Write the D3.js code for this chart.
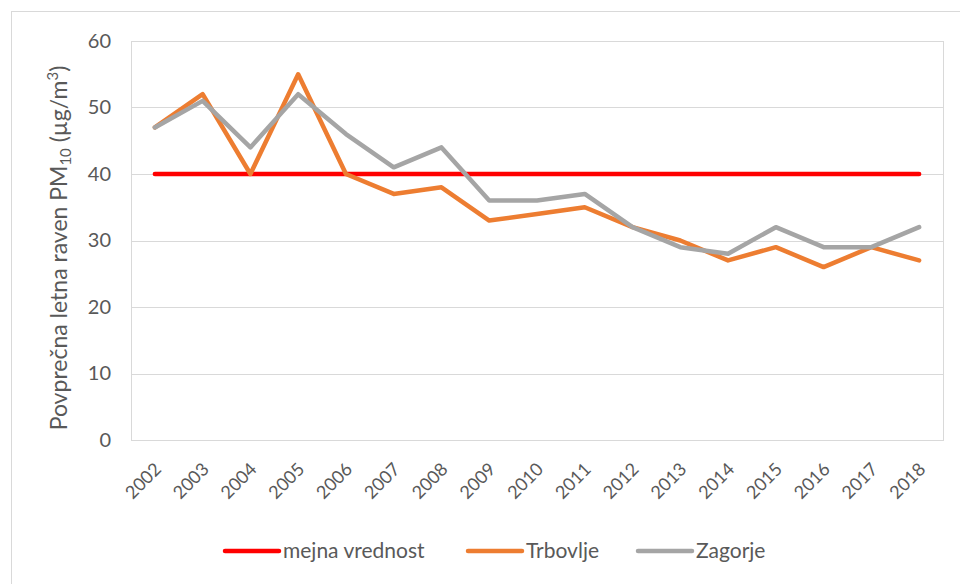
<!DOCTYPE html>
<html>
<head>
<meta charset="utf-8">
<script src="https://cdn.jsdelivr.net/npm/d3@7"></script>
<style>
  body { margin: 0; background: #fff; }
  svg { display: block; font-family: Lato, "Open Sans", sans-serif; }
</style>
</head>
<body>
<svg width="960" height="584"></svg>
<script>
// Data
const years = ["2002", "2003", "2004", "2005", "2006", "2007", "2008", "2009", "2010",
  "2011", "2012", "2013", "2014", "2015", "2016", "2017", "2018"];
const limitValue = [40, 40, 40, 40, 40, 40, 40, 40, 40, 40, 40, 40, 40, 40, 40, 40, 40];
const trbovlje = [47, 52, 40, 55, 40, 37, 38, 33, 34, 35, 32, 30, 27, 29, 26, 29, 27];
const zagorje = [47, 51, 44, 52, 46, 41, 44, 36, 36, 37, 32, 29, 28, 32, 29, 29, 32];
const yTicks = [0, 10, 20, 30, 40, 50, 60];

const series = [
  { name: "mejna vrednost", values: limitValue, color: "#FF0000" },
  { name: "Trbovlje", values: trbovlje, color: "#ED7D31" },
  { name: "Zagorje", values: zagorje, color: "#A5A5A5" },
];

const svg = d3.select("svg");
const plot = { left: 131, top: 41, right: 943, bottom: 440 };
const textColor = "#595959";
const gridColor = "#D9D9D9";

// outer chart frame
svg.append("rect")
  .attr("x", 11.5).attr("y", 11.5)
  .attr("width", 1000).attr("height", 1000)
  .attr("fill", "none").attr("stroke", gridColor);

const x = d3.scaleBand().domain(years).range([plot.left, plot.right]);
const y = d3.scaleLinear().domain([0, 60]).range([plot.bottom, plot.top]);

// gridlines
svg.append("g")
  .selectAll("line")
  .data(yTicks)
  .join("line")
  .attr("x1", plot.left).attr("x2", plot.right)
  .attr("y1", d => Math.round(y(d)) + 0.5).attr("y2", d => Math.round(y(d)) + 0.5)
  .attr("stroke", gridColor).attr("stroke-width", 1);

// plot border
svg.append("rect")
  .attr("x", plot.left + 0.5).attr("y", plot.top + 0.5)
  .attr("width", plot.right - plot.left).attr("height", plot.bottom - plot.top)
  .attr("fill", "none").attr("stroke", gridColor);

// y axis
const yAxis = svg.append("g")
  .attr("transform", `translate(${plot.left - 20},0)`)
  .call(d3.axisLeft(y).tickValues(yTicks).tickSize(0).tickPadding(0));
yAxis.select(".domain").remove();
yAxis.selectAll("text")
  .attr("fill", textColor).attr("font-size", 20).attr("font-family", "Lato, sans-serif");

// x axis
const xAxis = svg.append("g")
  .attr("transform", `translate(0,${plot.bottom})`)
  .call(d3.axisBottom(x).tickSize(0).tickPadding(0));
xAxis.select(".domain").remove();
xAxis.selectAll("text")
  .attr("fill", textColor).attr("font-size", 18).attr("font-family", "Lato, sans-serif")
  .attr("text-anchor", "end")
  .attr("dy", "0.35em")
  .attr("transform", "translate(3,26) rotate(-45)");

// y axis title
const title = svg.append("text")
  .attr("transform", `translate(67,248) rotate(-90)`)
  .attr("text-anchor", "middle")
  .attr("fill", textColor)
  .attr("font-size", 23);
title.append("tspan").text("Povprečna letna raven PM");
title.append("tspan").attr("font-size", 15).attr("dy", 4).text("10");
title.append("tspan").attr("dy", -4).text(" (µg/m");
title.append("tspan").attr("font-size", 15).attr("dy", -9).text("3");
title.append("tspan").attr("dy", 9).text(")");

// lines
const line = d3.line()
  .x((d, i) => x(years[i]) + x.bandwidth() / 2)
  .y(d => y(d));

svg.append("g")
  .selectAll("path")
  .data(series)
  .join("path")
  .attr("d", d => line(d.values))
  .attr("fill", "none")
  .attr("stroke", d => d.color)
  .attr("stroke-width", 4.5)
  .attr("stroke-linejoin", "round")
  .attr("stroke-linecap", "round");

// legend
const legendX = [225, 468, 638];
const legend = svg.append("g")
  .selectAll("g")
  .data(series)
  .join("g")
  .attr("transform", (d, i) => `translate(${legendX[i]},551)`);
legend.append("line")
  .attr("x1", 0).attr("x2", 54)
  .attr("stroke", d => d.color)
  .attr("stroke-width", 4.5)
  .attr("stroke-linecap", "round");
legend.append("text")
  .attr("x", 58).attr("dy", "0.35em")
  .attr("fill", textColor)
  .attr("font-size", 21)
  .text(d => d.name);
</script>
</body>
</html>
